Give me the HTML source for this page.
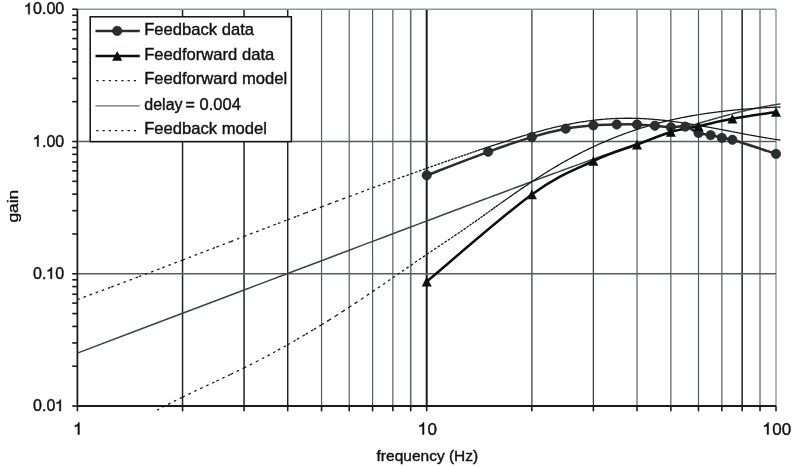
<!DOCTYPE html>
<html><head><meta charset="utf-8"><title>gain vs frequency</title><style>
*{margin:0;padding:0}
html,body{width:792px;height:467px;background:#fff;overflow:hidden}
svg{display:block;will-change:transform}
.gv{stroke:#52585a;stroke-width:1.15}
.gv2{stroke:#363b3d;stroke-width:1.25}
.gd{stroke:#1e2222;stroke-width:1.5}
.gli{stroke:#6a7072;stroke-width:1.7}
.gm{stroke:#1c1e1e;stroke-width:2}
.gl{stroke:#8d9898;stroke-width:1.4}
.gh{stroke:#565c5e;stroke-width:1.4}
.ax{stroke:#1a1a1a;stroke-width:1.8}
.tk{stroke:#1a1a1a;stroke-width:1.6}
.dl{stroke:#3d4343;stroke-width:1.5;fill:none}
.ldl{stroke:#6a6e6e;stroke-width:1.2;fill:none}
.dash{stroke:#1a1a1a;stroke-width:1.3;fill:none;stroke-dasharray:2.6 3.9}
.ldash{stroke:#1a1a1a;stroke-width:1.4;fill:none;stroke-dasharray:2.2 4.05}
.ffd{stroke:#0d0d0d;stroke-width:2.5;fill:none;stroke-linejoin:round}
.fbd{stroke:#2a2d2d;stroke-width:2.5;fill:none;stroke-linejoin:round}
.cm{fill:#2a2e2e;stroke:#1c1e1e;stroke-width:0.6}
.tm{fill:#0d0d0d}
.lg{fill:#fff;stroke:#111;stroke-width:1.5}
.t{font-family:"Liberation Sans",sans-serif;font-size:16px;fill:#111;stroke:#111;stroke-width:0.4px;stroke-linejoin:round}
.lgt{font-size:16.6px}
.h{fill-opacity:0;stroke-opacity:0}
.g1{fill:#111;stroke:#111;stroke-width:0.4px;stroke-linejoin:round;vector-effect:non-scaling-stroke}
.xt{font-size:17px}
.xl{font-size:15.5px}
</style></head>
<body><svg width="792" height="467" viewBox="0 0 792 467">
<line x1="182.55" y1="9.2" x2="182.55" y2="406" class="gd"/>
<line x1="244.06" y1="9.2" x2="244.06" y2="406" class="gd"/>
<line x1="287.7" y1="9.2" x2="287.7" y2="406" class="gd"/>
<line x1="321.55" y1="9.2" x2="321.55" y2="406" class="gv"/>
<line x1="349.21" y1="9.2" x2="349.21" y2="406" class="gv"/>
<line x1="372.59" y1="9.2" x2="372.59" y2="406" class="gv"/>
<line x1="392.85" y1="9.2" x2="392.85" y2="406" class="gv"/>
<line x1="410.72" y1="9.2" x2="410.72" y2="406" class="gli"/>
<line x1="531.85" y1="9.2" x2="531.85" y2="406" class="gli"/>
<line x1="593.36" y1="9.2" x2="593.36" y2="406" class="gv2"/>
<line x1="637" y1="9.2" x2="637" y2="406" class="gv"/>
<line x1="670.85" y1="9.2" x2="670.85" y2="406" class="gv"/>
<line x1="698.51" y1="9.2" x2="698.51" y2="406" class="gv"/>
<line x1="721.89" y1="9.2" x2="721.89" y2="406" class="gv"/>
<line x1="742.15" y1="9.2" x2="742.15" y2="406" class="gd"/>
<line x1="760.02" y1="9.2" x2="760.02" y2="406" class="gv"/>
<line x1="426.7" y1="9.2" x2="426.7" y2="406" class="gm"/>
<line x1="776" y1="9.2" x2="776" y2="406" class="gl"/>
<line x1="77.4" y1="9.23" x2="776" y2="9.23" class="gl"/>
<line x1="77.4" y1="141.5" x2="776" y2="141.5" class="gh"/>
<line x1="77.4" y1="273.77" x2="776" y2="273.77" class="gh"/>
<line x1="77.4" y1="9.2" x2="77.4" y2="406" class="ax"/>
<line x1="77.4" y1="406" x2="776" y2="406" class="ax"/>
<line x1="72.2" y1="406.04" x2="77.4" y2="406.04" class="tk"/>
<line x1="72.2" y1="366.22" x2="77.4" y2="366.22" class="tk"/>
<line x1="72.2" y1="342.93" x2="77.4" y2="342.93" class="tk"/>
<line x1="72.2" y1="326.41" x2="77.4" y2="326.41" class="tk"/>
<line x1="72.2" y1="313.59" x2="77.4" y2="313.59" class="tk"/>
<line x1="72.2" y1="303.11" x2="77.4" y2="303.11" class="tk"/>
<line x1="72.2" y1="294.26" x2="77.4" y2="294.26" class="tk"/>
<line x1="72.2" y1="286.59" x2="77.4" y2="286.59" class="tk"/>
<line x1="72.2" y1="279.82" x2="77.4" y2="279.82" class="tk"/>
<line x1="72.2" y1="273.77" x2="77.4" y2="273.77" class="tk"/>
<line x1="72.2" y1="233.95" x2="77.4" y2="233.95" class="tk"/>
<line x1="72.2" y1="210.66" x2="77.4" y2="210.66" class="tk"/>
<line x1="72.2" y1="194.14" x2="77.4" y2="194.14" class="tk"/>
<line x1="72.2" y1="181.32" x2="77.4" y2="181.32" class="tk"/>
<line x1="72.2" y1="170.84" x2="77.4" y2="170.84" class="tk"/>
<line x1="72.2" y1="161.99" x2="77.4" y2="161.99" class="tk"/>
<line x1="72.2" y1="154.32" x2="77.4" y2="154.32" class="tk"/>
<line x1="72.2" y1="147.55" x2="77.4" y2="147.55" class="tk"/>
<line x1="72.2" y1="141.5" x2="77.4" y2="141.5" class="tk"/>
<line x1="72.2" y1="101.68" x2="77.4" y2="101.68" class="tk"/>
<line x1="72.2" y1="78.39" x2="77.4" y2="78.39" class="tk"/>
<line x1="72.2" y1="61.87" x2="77.4" y2="61.87" class="tk"/>
<line x1="72.2" y1="49.05" x2="77.4" y2="49.05" class="tk"/>
<line x1="72.2" y1="38.57" x2="77.4" y2="38.57" class="tk"/>
<line x1="72.2" y1="29.72" x2="77.4" y2="29.72" class="tk"/>
<line x1="72.2" y1="22.05" x2="77.4" y2="22.05" class="tk"/>
<line x1="72.2" y1="15.28" x2="77.4" y2="15.28" class="tk"/>
<line x1="72.2" y1="9.23" x2="77.4" y2="9.23" class="tk"/>
<line x1="77.4" y1="406" x2="77.4" y2="411.3" class="tk"/>
<line x1="182.55" y1="406" x2="182.55" y2="411.3" class="tk"/>
<line x1="244.06" y1="406" x2="244.06" y2="411.3" class="tk"/>
<line x1="287.7" y1="406" x2="287.7" y2="411.3" class="tk"/>
<line x1="321.55" y1="406" x2="321.55" y2="411.3" class="tk"/>
<line x1="349.21" y1="406" x2="349.21" y2="411.3" class="tk"/>
<line x1="372.59" y1="406" x2="372.59" y2="411.3" class="tk"/>
<line x1="392.85" y1="406" x2="392.85" y2="411.3" class="tk"/>
<line x1="410.72" y1="406" x2="410.72" y2="411.3" class="tk"/>
<line x1="426.7" y1="406" x2="426.7" y2="411.3" class="tk"/>
<line x1="531.85" y1="406" x2="531.85" y2="411.3" class="tk"/>
<line x1="593.36" y1="406" x2="593.36" y2="411.3" class="tk"/>
<line x1="637" y1="406" x2="637" y2="411.3" class="tk"/>
<line x1="670.85" y1="406" x2="670.85" y2="411.3" class="tk"/>
<line x1="698.51" y1="406" x2="698.51" y2="411.3" class="tk"/>
<line x1="721.89" y1="406" x2="721.89" y2="411.3" class="tk"/>
<line x1="742.15" y1="406" x2="742.15" y2="411.3" class="tk"/>
<line x1="760.02" y1="406" x2="760.02" y2="411.3" class="tk"/>
<line x1="776" y1="406" x2="776" y2="411.3" class="tk"/>
<path d="M77.4,353.1 L138.91,329.81 L182.55,313.29 L216.4,300.47 L244.06,290.01 L267.44,281.15 L287.7,273.49 L305.57,266.73 L321.55,260.69 L336.01,255.22 L349.21,250.23 L361.35,245.64 L372.59,241.39 L383.06,237.44 L392.85,233.75 L402.05,230.28 L410.72,227.01 L418.92,223.91 L426.7,220.98 L434.1,218.19 L441.16,215.54 L447.9,213 L454.36,210.57 L460.55,208.25 L466.5,206.01 L472.23,203.87 L477.74,201.8 L483.07,199.8 L488.21,197.88 L493.18,196.02 L498,194.22 L502.67,192.48 L507.2,190.79 L511.59,189.15 L515.87,187.56 L520.02,186.01 L524.07,184.51 L528.01,183.04 L531.85,181.62 L535.6,180.23 L539.25,178.88 L542.82,177.56 L546.31,176.27 L549.72,175.01 L553.05,173.79 L556.31,172.59 L559.51,171.41 L562.64,170.27 L565.7,169.14 L568.7,168.04 L571.65,166.97 L574.54,165.91 L577.38,164.88 L580.16,163.87 L582.89,162.87 L585.58,161.9 L588.22,160.95 L590.81,160.01 L593.36,159.09 L595.87,158.19 L598.33,157.3 L600.76,156.43 L603.15,155.57 L605.5,154.73 L607.82,153.9 L610.1,153.09 L612.35,152.29 L614.56,151.5 L616.74,150.73 L618.89,149.97 L621.02,149.22 L623.11,148.48 L625.17,147.76 L627.21,147.05 L629.22,146.34 L631.2,145.65 L633.16,144.97 L635.09,144.3 L637,143.64 L638.88,142.98 L640.75,142.34 L642.58,141.71 L644.4,141.09 L646.2,140.47 L647.97,139.86 L649.72,139.27 L651.46,138.68 L653.17,138.1 L654.87,137.52 L656.54,136.96 L658.2,136.4 L659.84,135.85 L661.46,135.31 L663.07,134.78 L664.66,134.25 L666.23,133.73 L667.79,133.22 L669.33,132.71 L670.85,132.21 L672.36,131.71 L673.85,131.23 L675.33,130.75 L676.8,130.27 L678.25,129.8 L679.69,129.34 L681.11,128.89 L682.53,128.43 L683.92,127.99 L685.31,127.55 L686.68,127.12 L688.04,126.69 L689.39,126.27 L690.73,125.85 L692.05,125.44 L693.37,125.03 L694.67,124.63 L695.96,124.23 L697.24,123.84 L698.51,123.45 L699.77,123.07 L701.02,122.69 L702.25,122.32 L703.48,121.95 L704.7,121.59 L705.91,121.23 L707.11,120.88 L708.3,120.53 L709.48,120.18 L710.65,119.84 L711.81,119.51 L712.97,119.17 L714.11,118.84 L715.25,118.52 L716.38,118.2 L717.5,117.88 L718.61,117.57 L719.71,117.26 L720.81,116.96 L721.89,116.66 L722.97,116.36 L724.04,116.07 L725.11,115.78 L726.17,115.49 L727.22,115.21 L728.26,114.93 L729.29,114.66 L730.32,114.39 L731.34,114.12 L732.36,113.86 L733.37,113.6 L734.37,113.34 L735.36,113.09 L736.35,112.84 L737.33,112.59 L738.31,112.35 L739.28,112.1 L740.24,111.87 L741.2,111.63 L742.15,111.4 L743.09,111.18 L744.03,110.95 L744.97,110.73 L745.9,110.51 L746.82,110.3 L747.73,110.09 L748.65,109.88 L749.55,109.67 L750.45,109.47 L751.35,109.27 L752.24,109.07 L753.12,108.88 L754,108.69 L754.87,108.5 L755.74,108.31 L756.61,108.13 L757.47,107.95 L758.32,107.77 L759.17,107.6 L760.02,107.43 L760.86,107.26 L761.69,107.09 L762.52,106.93 L763.35,106.77 L764.17,106.61 L764.99,106.46 L765.8,106.31 L766.61,106.16 L767.42,106.01 L768.22,105.87 L769.02,105.72 L769.81,105.58 L770.6,105.45 L771.38,105.31 L772.16,105.18 L772.94,105.05 L773.71,104.93 L774.48,104.8 L775.24,104.68 L776,104.57 L776.76,104.45 L777.51,104.34 L778.26,104.22 L779,104.12 L779.75,104.01 L780.48,103.91" class="dl"/>
<path d="M77.4,299.65L111.25,287.07M111.25,287.07L138.91,276.66M138.91,276.66L162.29,267.78M162.29,267.78L182.55,260.04M182.55,260.04L200.42,253.2M200.42,253.2L216.4,247.07M216.4,247.07L230.86,241.52M230.86,241.52L244.06,236.46M244.06,236.46L256.2,231.8M256.2,231.8L267.44,227.5M267.44,227.5L277.91,223.5M277.91,223.5L287.7,219.76M287.7,219.76L296.9,216.26M296.9,216.26L305.57,212.97M305.57,212.97L313.77,209.86M313.77,209.86L321.55,206.92M321.55,206.92L328.95,204.13M328.95,204.13L336.01,201.48M336.01,201.48L342.75,198.96M342.75,198.96L349.21,196.55M349.21,196.55L355.4,194.24M355.4,194.24L361.35,192.03M361.35,192.03L367.08,189.91M367.08,189.91L372.59,187.87M372.59,187.87L377.92,185.92M377.92,185.92L383.06,184.03M383.06,184.03L388.03,182.21M388.03,182.21L392.85,180.46M392.85,180.46L397.52,178.76M397.52,178.76L402.05,177.12M402.05,177.12L406.44,175.53M406.44,175.53L410.72,173.99M410.72,173.99L414.87,172.5M414.87,172.5L418.92,171.05M418.92,171.05L422.86,169.65M422.86,169.65L426.7,168.28M426.7,168.28L430.45,166.95M430.45,166.95L434.1,165.66M434.1,165.66L437.67,164.4M437.67,164.4L441.16,163.18M441.16,163.18L444.57,161.98M444.57,161.98L447.9,160.82M447.9,160.82L451.16,159.68M451.16,159.68L454.36,158.57M454.36,158.57L457.49,157.49M457.49,157.49L460.55,156.43M460.55,156.43L463.55,155.4M463.55,155.4L466.5,154.39M466.5,154.39L469.39,153.4M469.39,153.4L472.23,152.43M472.23,152.43L475.01,151.49M475.01,151.49L477.74,150.56M477.74,150.56L480.43,149.65M480.43,149.65L483.07,148.76M483.07,148.76L485.66,147.89M485.66,147.89L488.21,147.04M488.21,147.04L490.72,146.2M490.72,146.2L493.18,145.38M493.18,145.38L495.61,144.58M495.61,144.58L498,143.79M498,143.79L500.35,143.02M500.35,143.02L502.67,142.27M502.67,142.27L504.95,141.53M504.95,141.53L507.2,140.81M507.2,140.81L509.41,140.1M509.41,140.1L511.59,139.41M511.59,139.41L513.74,138.74M513.74,138.74L515.87,138.08M515.87,138.08L517.96,137.43M517.96,137.43L520.02,136.8M520.02,136.8L522.06,136.19M522.06,136.19L524.07,135.59M524.07,135.59L526.05,135M526.05,135L528.01,134.43M528.01,134.43L529.94,133.87M529.94,133.87L531.85,133.32M531.85,133.32L533.73,132.79M533.73,132.79L535.6,132.27M535.6,132.27L537.43,131.76M537.43,131.76L539.25,131.26M539.25,131.26L541.05,130.78M541.05,130.78L542.82,130.31M542.82,130.31L544.57,129.85M544.57,129.85L546.31,129.4M546.31,129.4L548.02,128.97M548.02,128.97L549.72,128.55M549.72,128.55L551.39,128.13M551.39,128.13L553.05,127.73M553.05,127.73L554.69,127.34M554.69,127.34L556.31,126.96M556.31,126.96L557.92,126.59M557.92,126.59L559.51,126.23M559.51,126.23L561.08,125.88M561.08,125.88L562.64,125.54M562.64,125.54L564.18,125.21M564.18,125.21L565.7,124.89M565.7,124.89L567.21,124.58M567.21,124.58L568.7,124.28M568.7,124.28L570.18,123.99M570.18,123.99L571.65,123.7M571.65,123.7L573.1,123.43M573.1,123.43L574.54,123.16M574.54,123.16L575.96,122.91M575.96,122.91L577.38,122.66M577.38,122.66L578.77,122.42M578.77,122.42L580.16,122.19M580.16,122.19L581.53,121.97M581.53,121.97L582.89,121.75M582.89,121.75L584.24,121.54M584.24,121.54L585.58,121.34M585.58,121.34L586.9,121.15M586.9,121.15L588.22,120.97M588.22,120.97L589.52,120.79M589.52,120.79L590.81,120.62M590.81,120.62L592.09,120.46M592.09,120.46L593.36,120.3M593.36,120.3L594.62,120.15M594.62,120.15L595.87,120.01M595.87,120.01L597.1,119.88M597.1,119.88L598.33,119.75M598.33,119.75L599.55,119.63M599.55,119.63L600.76,119.51M600.76,119.51L601.96,119.4M601.96,119.4L603.15,119.3M603.15,119.3L604.33,119.2M604.33,119.2L605.5,119.1M605.5,119.1L606.66,119.02M606.66,119.02L607.82,118.94M607.82,118.94L608.96,118.86M608.96,118.86L610.1,118.79M610.1,118.79L611.23,118.72M611.23,118.72L612.35,118.66M612.35,118.66L613.46,118.6M613.46,118.6L614.56,118.55M614.56,118.55L615.66,118.5M615.66,118.5L616.74,118.46M616.74,118.46L617.82,118.42M617.82,118.42L618.89,118.38M618.89,118.38L619.96,118.35M619.96,118.35L621.02,118.33M621.02,118.33L622.07,118.3M622.07,118.3L623.11,118.28M623.11,118.28L624.14,118.27M624.14,118.27L625.17,118.26M625.17,118.26L626.19,118.25M626.19,118.25L627.21,118.25M627.21,118.25L628.22,118.25M628.22,118.25L629.22,118.25M629.22,118.25L630.21,118.26M630.21,118.26L631.2,118.26M631.2,118.26L632.18,118.28M632.18,118.28L633.16,118.29M633.16,118.29L634.13,118.31M634.13,118.31L635.09,118.33M635.09,118.33L636.05,118.36M636.05,118.36L637,118.39M637,118.39L637.94,118.42M637.94,118.42L638.88,118.45M638.88,118.45L639.82,118.49M639.82,118.49L640.75,118.53M640.75,118.53L641.67,118.57M641.67,118.57L642.58,118.61M642.58,118.61L643.5,118.66M643.5,118.66L644.4,118.71M644.4,118.71L645.3,118.76M645.3,118.76L646.2,118.81M646.2,118.81L647.09,118.87M647.09,118.87L647.97,118.92M647.97,118.92L648.85,118.98M648.85,118.98L649.72,119.04M649.72,119.04L650.59,119.11M650.59,119.11L651.46,119.17M651.46,119.17L652.32,119.24M652.32,119.24L653.17,119.31M653.17,119.31L654.02,119.38M654.02,119.38L654.87,119.45M654.87,119.45L655.71,119.53M655.71,119.53L656.54,119.6M656.54,119.6L657.37,119.68M657.37,119.68L658.2,119.76M658.2,119.76L659.02,119.84M659.02,119.84L659.84,119.92M659.84,119.92L660.65,120M660.65,120L661.46,120.08M661.46,120.08L662.27,120.17M662.27,120.17L663.07,120.25M663.07,120.25L663.87,120.34M663.87,120.34L664.66,120.43M664.66,120.43L665.45,120.52M665.45,120.52L666.23,120.61M666.23,120.61L667.01,120.7M667.01,120.7L667.79,120.79M667.79,120.79L668.56,120.89M668.56,120.89L669.33,120.98M669.33,120.98L670.09,121.08M670.09,121.08L670.85,121.17M670.85,121.17L671.61,121.27M671.61,121.27L672.36,121.37M672.36,121.37L673.11,121.46M673.11,121.46L673.85,121.56M673.85,121.56L674.6,121.66M674.6,121.66L675.33,121.76M675.33,121.76L676.07,121.86M676.07,121.86L676.8,121.96M676.8,121.96L677.53,122.07M677.53,122.07L678.25,122.17M678.25,122.17L678.97,122.27M678.97,122.27L679.69,122.37M679.69,122.37L680.4,122.48M680.4,122.48L681.11,122.58M681.11,122.58L681.82,122.69M681.82,122.69L682.53,122.79M682.53,122.79L683.23,122.9M683.23,122.9L683.92,123M683.92,123L684.62,123.11M684.62,123.11L685.31,123.22M685.31,123.22L686,123.32M686,123.32L686.68,123.43M686.68,123.43L687.36,123.54M687.36,123.54L688.04,123.65M688.04,123.65L688.72,123.75M688.72,123.75L689.39,123.86M689.39,123.86L690.06,123.97M690.06,123.97L690.73,124.08M690.73,124.08L691.39,124.19M691.39,124.19L692.05,124.3M692.05,124.3L692.71,124.41M692.71,124.41L693.37,124.52M693.37,124.52L694.02,124.62M694.02,124.62L694.67,124.73M694.67,124.73L695.31,124.84M695.31,124.84L695.96,124.95M695.96,124.95L696.6,125.06M696.6,125.06L697.24,125.17M697.24,125.17L697.87,125.28M697.87,125.28L698.51,125.39M698.51,125.39L699.14,125.5M699.14,125.5L699.77,125.61M699.77,125.61L700.39,125.72M700.39,125.72L701.02,125.83M701.02,125.83L701.64,125.94M701.64,125.94L702.25,126.05M702.25,126.05L702.87,126.16M702.87,126.16L703.48,126.27M703.48,126.27L704.09,126.38M704.09,126.38L704.7,126.49M704.7,126.49L705.31,126.6M705.31,126.6L705.91,126.71M705.91,126.71L706.51,126.82M706.51,126.82L707.11,126.92M707.11,126.92L707.7,127.03M707.7,127.03L708.3,127.14M708.3,127.14L708.89,127.25M708.89,127.25L709.48,127.36M709.48,127.36L710.07,127.47M710.07,127.47L710.65,127.57M710.65,127.57L711.23,127.68M711.23,127.68L711.81,127.79M711.81,127.79L712.39,127.9M712.39,127.9L712.97,128.01M712.97,128.01L713.54,128.11M713.54,128.11L714.11,128.22M714.11,128.22L714.68,128.33M714.68,128.33L715.25,128.43M715.25,128.43L715.81,128.54M715.81,128.54L716.38,128.64M716.38,128.64L716.94,128.75M716.94,128.75L717.5,128.86M717.5,128.86L718.05,128.96M718.05,128.96L718.61,129.07M718.61,129.07L719.16,129.17M719.16,129.17L719.71,129.28M719.71,129.28L720.26,129.38M720.26,129.38L720.81,129.48M720.81,129.48L721.35,129.59M721.35,129.59L721.89,129.69M721.89,129.69L722.43,129.79M722.43,129.79L722.97,129.9M722.97,129.9L723.51,130M723.51,130L724.04,130.1M724.04,130.1L724.58,130.2M724.58,130.2L725.11,130.31M725.11,130.31L725.64,130.41M725.64,130.41L726.17,130.51M726.17,130.51L726.69,130.61M726.69,130.61L727.22,130.71M727.22,130.71L727.74,130.81M727.74,130.81L728.26,130.91M728.26,130.91L728.78,131.01M728.78,131.01L729.29,131.11M729.29,131.11L729.81,131.21M729.81,131.21L730.32,131.31M730.32,131.31L730.83,131.4M730.83,131.4L731.34,131.5M731.34,131.5L731.85,131.6M731.85,131.6L732.36,131.7M732.36,131.7L732.86,131.79M732.86,131.79L733.37,131.89M733.37,131.89L733.87,131.99M733.87,131.99L734.37,132.08M734.37,132.08L734.87,132.18M734.87,132.18L735.36,132.27M735.36,132.27L735.86,132.37M735.86,132.37L736.35,132.46M736.35,132.46L736.84,132.55M736.84,132.55L737.33,132.65M737.33,132.65L737.82,132.74M737.82,132.74L738.31,132.83M738.31,132.83L738.79,132.93M738.79,132.93L739.28,133.02M739.28,133.02L739.76,133.11M739.76,133.11L740.24,133.2M740.24,133.2L740.72,133.29M740.72,133.29L741.2,133.38M741.2,133.38L741.67,133.47M741.67,133.47L742.15,133.56M742.15,133.56L742.62,133.65M742.62,133.65L743.09,133.74M743.09,133.74L743.56,133.83M743.56,133.83L744.03,133.92M744.03,133.92L744.5,134.01M744.5,134.01L744.97,134.09M744.97,134.09L745.43,134.18M745.43,134.18L745.9,134.27M745.9,134.27L746.36,134.35M746.36,134.35L746.82,134.44M746.82,134.44L747.28,134.52M747.28,134.52L747.73,134.61M747.73,134.61L748.19,134.69M748.19,134.69L748.65,134.78M748.65,134.78L749.1,134.86M749.1,134.86L749.55,134.95M749.55,134.95L750,135.03M750,135.03L750.45,135.11M750.45,135.11L750.9,135.19M750.9,135.19L751.35,135.28M751.35,135.28L751.79,135.36M751.79,135.36L752.24,135.44M752.24,135.44L752.68,135.52M752.68,135.52L753.12,135.6M753.12,135.6L753.56,135.68M753.56,135.68L754,135.76M754,135.76L754.44,135.84M754.44,135.84L754.87,135.92M754.87,135.92L755.31,135.99M755.31,135.99L755.74,136.07M755.74,136.07L756.18,136.15M756.18,136.15L756.61,136.23M756.61,136.23L757.04,136.3M757.04,136.3L757.47,136.38M757.47,136.38L757.9,136.46M757.9,136.46L758.32,136.53M758.32,136.53L758.75,136.61M758.75,136.61L759.17,136.68M759.17,136.68L759.59,136.75M759.59,136.75L760.02,136.83M760.02,136.83L760.44,136.9M760.44,136.9L760.86,136.97M760.86,136.97L761.28,137.05M761.28,137.05L761.69,137.12M761.69,137.12L762.11,137.19M762.11,137.19L762.52,137.26M762.52,137.26L762.94,137.33M762.94,137.33L763.35,137.4M763.35,137.4L763.76,137.47M763.76,137.47L764.17,137.54M764.17,137.54L764.58,137.61M764.58,137.61L764.99,137.68M764.99,137.68L765.4,137.75M765.4,137.75L765.8,137.82M765.8,137.82L766.21,137.89M766.21,137.89L766.61,137.95M766.61,137.95L767.02,138.02M767.02,138.02L767.42,138.09M767.42,138.09L767.82,138.15M767.82,138.15L768.22,138.22M768.22,138.22L768.62,138.28M768.62,138.28L769.02,138.35M769.02,138.35L769.41,138.41M769.41,138.41L769.81,138.48M769.81,138.48L770.2,138.54M770.2,138.54L770.6,138.6M770.6,138.6L770.99,138.67M770.99,138.67L771.38,138.73M771.38,138.73L771.77,138.79M771.77,138.79L772.16,138.85M772.16,138.85L772.55,138.91M772.55,138.91L772.94,138.98M772.94,138.98L773.32,139.04M773.32,139.04L773.71,139.1M773.71,139.1L774.09,139.16M774.09,139.16L774.48,139.22M774.48,139.22L774.86,139.27M774.86,139.27L775.24,139.33M775.24,139.33L775.62,139.39M775.62,139.39L776,139.45M776,139.45L776.38,139.51M776.38,139.51L776.76,139.56M776.76,139.56L777.13,139.62M777.13,139.62L777.51,139.68M777.51,139.68L777.88,139.73M777.88,139.73L778.26,139.79M778.26,139.79L778.63,139.84M778.63,139.84L779,139.9M779,139.9L779.38,139.95M779.38,139.95L779.75,140M779.75,140L780.12,140.06M780.12,140.06L780.48,140.11" class="dash"/>
<path d="M156.9,410.2L162.29,407.24M162.29,407.24L182.55,397.1M182.55,397.1L200.42,388.6M200.42,388.6L216.4,381.12M216.4,381.12L230.86,374.29M230.86,374.29L244.06,367.88M244.06,367.88L256.2,361.74M256.2,361.74L267.44,355.85M267.44,355.85L277.91,350.18M277.91,350.18L287.7,344.73M287.7,344.73L296.9,339.47M296.9,339.47L305.57,334.4M305.57,334.4L313.77,329.5M313.77,329.5L321.55,324.75M321.55,324.75L328.95,320.16M328.95,320.16L336.01,315.71M336.01,315.71L342.75,311.4M342.75,311.4L349.21,307.21M349.21,307.21L355.4,303.13M355.4,303.13L361.35,299.17M361.35,299.17L367.08,295.33M367.08,295.33L372.59,291.6M372.59,291.6L377.92,287.98M377.92,287.98L383.06,284.46M383.06,284.46L388.03,281.05M388.03,281.05L392.85,277.73M392.85,277.73L397.52,274.52M397.52,274.52L402.05,271.39M402.05,271.39L406.44,268.36M406.44,268.36L410.72,265.42M410.72,265.42L414.87,262.56M414.87,262.56L418.92,259.78M418.92,259.78L422.86,257.09M422.86,257.09L426.7,254.47M426.7,254.47L430.45,251.92M430.45,251.92L434.1,249.44M434.1,249.44L437.67,247.04M437.67,247.04L441.16,244.7M441.16,244.7L444.57,242.41M444.57,242.41L447.9,240.18M447.9,240.18L451.16,237.99M451.16,237.99L454.36,235.84M454.36,235.84L457.49,233.73M457.49,233.73L460.55,231.65M460.55,231.65L463.55,229.6M463.55,229.6L466.5,227.57M466.5,227.57L469.39,225.56M469.39,225.56L472.23,223.58M472.23,223.58L475.01,221.61M475.01,221.61L477.74,219.68M477.74,219.68L480.43,217.76M480.43,217.76L483.07,215.88M483.07,215.88L485.66,214.02M485.66,214.02L488.21,212.19M488.21,212.19L490.72,210.39M490.72,210.39L493.18,208.63M493.18,208.63L495.61,206.89M495.61,206.89L498,205.18M498,205.18L500.35,203.51M500.35,203.51L502.67,201.86M502.67,201.86L504.95,200.25M504.95,200.25L507.2,198.67M507.2,198.67L509.41,197.11M509.41,197.11L511.59,195.59M511.59,195.59L513.74,194.09M513.74,194.09L515.87,192.62M515.87,192.62L517.96,191.18M517.96,191.18L520.02,189.77M520.02,189.77L522.06,188.38M522.06,188.38L524.07,187.01M524.07,187.01L526.05,185.67M526.05,185.67L528.01,184.35M528.01,184.35L529.94,183.06M529.94,183.06L531.85,181.79M531.85,181.79L533.73,180.54M533.73,180.54L535.6,179.32M535.6,179.32L537.43,178.11M537.43,178.11L539.25,176.93M539.25,176.93L541.05,175.77M541.05,175.77L542.82,174.64M542.82,174.64L544.57,173.53M544.57,173.53L546.31,172.43M546.31,172.43L548.02,171.36M548.02,171.36L549.72,170.32M549.72,170.32L551.39,169.29M551.39,169.29L553.05,168.29M553.05,168.29L554.69,167.3M554.69,167.3L556.31,166.33M556.31,166.33L557.92,165.39M557.92,165.39L559.51,164.46M559.51,164.46L561.08,163.55M561.08,163.55L562.64,162.66M562.64,162.66L564.18,161.78M564.18,161.78L565.7,160.92M565.7,160.92L567.21,160.08M567.21,160.08L568.7,159.26M568.7,159.26L570.18,158.45M570.18,158.45L571.65,157.65M571.65,157.65L573.1,156.87M573.1,156.87L574.54,156.1M574.54,156.1L575.96,155.35M575.96,155.35L577.38,154.61M577.38,154.61L578.77,153.89M578.77,153.89L580.16,153.18M580.16,153.18L581.53,152.48M581.53,152.48L582.89,151.79M582.89,151.79L584.24,151.12M584.24,151.12L585.58,150.46M585.58,150.46L586.9,149.81M586.9,149.81L588.22,149.17M588.22,149.17L589.52,148.54M589.52,148.54L590.81,147.92M590.81,147.92L592.09,147.31M592.09,147.31L593.36,146.72M593.36,146.72L594.62,146.13M594.62,146.13L595.87,145.56M595.87,145.56L597.1,144.99M597.1,144.99L598.33,144.43M598.33,144.43L599.55,143.89M599.55,143.89L600.76,143.35M600.76,143.35L601.96,142.82M601.96,142.82L603.15,142.3M603.15,142.3L604.33,141.79M604.33,141.79L605.5,141.28M605.5,141.28L606.66,140.79M606.66,140.79L607.82,140.3M607.82,140.3L608.96,139.82M608.96,139.82L610.1,139.35M610.1,139.35L611.23,138.89M611.23,138.89L612.35,138.43M612.35,138.43L613.46,137.98M613.46,137.98L614.56,137.54M614.56,137.54L615.66,137.11M615.66,137.11L616.74,136.68M616.74,136.68L617.82,136.26M617.82,136.26L618.89,135.84M618.89,135.84L619.96,135.44M619.96,135.44L621.02,135.04M621.02,135.04L622.07,134.64M622.07,134.64L623.11,134.25M623.11,134.25L624.14,133.87M624.14,133.87L625.17,133.49M625.17,133.49L626.19,133.12M626.19,133.12L627.21,132.76M627.21,132.76L628.22,132.4M628.22,132.4L629.22,132.04M629.22,132.04L630.21,131.7M630.21,131.7L631.2,131.35M631.2,131.35L632.18,131.02M632.18,131.02L633.16,130.68M633.16,130.68L634.13,130.36M634.13,130.36L635.09,130.03M635.09,130.03L636.05,129.72M636.05,129.72L637,129.4M637,129.4L637.94,129.1M637.94,129.1L638.88,128.79M638.88,128.79L639.82,128.49M639.82,128.49L640.75,128.2M640.75,128.2L641.67,127.91M641.67,127.91L642.58,127.62M642.58,127.62L643.5,127.34M643.5,127.34L644.4,127.07M644.4,127.07L645.3,126.79M645.3,126.79L646.2,126.53M646.2,126.53L647.09,126.26M647.09,126.26L647.97,126M647.97,126L648.85,125.74M648.85,125.74L649.72,125.49M649.72,125.49L650.59,125.24M650.59,125.24L651.46,125M651.46,125L652.32,124.75M652.32,124.75L653.17,124.52M653.17,124.52L654.02,124.28M654.02,124.28L654.87,124.05M654.87,124.05L655.71,123.82M655.71,123.82L656.54,123.6M656.54,123.6L657.37,123.37M657.37,123.37L658.2,123.16M658.2,123.16L659.02,122.94M659.02,122.94L659.84,122.73M659.84,122.73L660.65,122.52M660.65,122.52L661.46,122.31M661.46,122.31L662.27,122.11M662.27,122.11L663.07,121.91M663.07,121.91L663.87,121.71M663.87,121.71L664.66,121.52M664.66,121.52L665.45,121.32M665.45,121.32L666.23,121.13M666.23,121.13L667.01,120.95M667.01,120.95L667.79,120.76M667.79,120.76L668.56,120.58M668.56,120.58L669.33,120.4M669.33,120.4L670.09,120.22M670.09,120.22L670.85,120.05M670.85,120.05L671.61,119.88M671.61,119.88L672.36,119.71M672.36,119.71L673.11,119.54M673.11,119.54L673.85,119.37M673.85,119.37L674.6,119.21M674.6,119.21L675.33,119.05M675.33,119.05L676.07,118.89M676.07,118.89L676.8,118.73M676.8,118.73L677.53,118.58M677.53,118.58L678.25,118.43M678.25,118.43L678.97,118.28M678.97,118.28L679.69,118.13M679.69,118.13L680.4,117.98M680.4,117.98L681.11,117.84M681.11,117.84L681.82,117.69M681.82,117.69L682.53,117.55M682.53,117.55L683.23,117.42M683.23,117.42L683.92,117.28M683.92,117.28L684.62,117.14M684.62,117.14L685.31,117.01M685.31,117.01L686,116.88M686,116.88L686.68,116.75M686.68,116.75L687.36,116.62M687.36,116.62L688.04,116.49M688.04,116.49L688.72,116.37M688.72,116.37L689.39,116.24M689.39,116.24L690.06,116.12M690.06,116.12L690.73,116M690.73,116L691.39,115.88M691.39,115.88L692.05,115.76M692.05,115.76L692.71,115.65M692.71,115.65L693.37,115.53M693.37,115.53L694.02,115.42M694.02,115.42L694.67,115.31M694.67,115.31L695.31,115.2M695.31,115.2L695.96,115.09M695.96,115.09L696.6,114.98M696.6,114.98L697.24,114.88M697.24,114.88L697.87,114.77M697.87,114.77L698.51,114.67M698.51,114.67L699.14,114.57M699.14,114.57L699.77,114.47M699.77,114.47L700.39,114.37M700.39,114.37L701.02,114.27M701.02,114.27L701.64,114.17M701.64,114.17L702.25,114.08M702.25,114.08L702.87,113.98M702.87,113.98L703.48,113.89M703.48,113.89L704.09,113.79M704.09,113.79L704.7,113.7M704.7,113.7L705.31,113.61M705.31,113.61L705.91,113.52M705.91,113.52L706.51,113.44M706.51,113.44L707.11,113.35M707.11,113.35L707.7,113.26M707.7,113.26L708.3,113.18M708.3,113.18L708.89,113.09M708.89,113.09L709.48,113.01M709.48,113.01L710.07,112.93M710.07,112.93L710.65,112.85M710.65,112.85L711.23,112.77M711.23,112.77L711.81,112.69M711.81,112.69L712.39,112.61M712.39,112.61L712.97,112.53M712.97,112.53L713.54,112.46M713.54,112.46L714.11,112.38M714.11,112.38L714.68,112.31M714.68,112.31L715.25,112.24M715.25,112.24L715.81,112.16M715.81,112.16L716.38,112.09M716.38,112.09L716.94,112.02M716.94,112.02L717.5,111.95M717.5,111.95L718.05,111.88M718.05,111.88L718.61,111.81M718.61,111.81L719.16,111.74M719.16,111.74L719.71,111.68M719.71,111.68L720.26,111.61M720.26,111.61L720.81,111.55M720.81,111.55L721.35,111.48M721.35,111.48L721.89,111.42M721.89,111.42L722.43,111.36M722.43,111.36L722.97,111.29M722.97,111.29L723.51,111.23M723.51,111.23L724.04,111.17M724.04,111.17L724.58,111.11M724.58,111.11L725.11,111.05M725.11,111.05L725.64,110.99M725.64,110.99L726.17,110.93M726.17,110.93L726.69,110.88M726.69,110.88L727.22,110.82M727.22,110.82L727.74,110.76M727.74,110.76L728.26,110.71M728.26,110.71L728.78,110.65M728.78,110.65L729.29,110.6M729.29,110.6L729.81,110.54M729.81,110.54L730.32,110.49M730.32,110.49L730.83,110.44M730.83,110.44L731.34,110.39M731.34,110.39L731.85,110.34M731.85,110.34L732.36,110.29M732.36,110.29L732.86,110.23M732.86,110.23L733.37,110.19M733.37,110.19L733.87,110.14M733.87,110.14L734.37,110.09M734.37,110.09L734.87,110.04M734.87,110.04L735.36,109.99M735.36,109.99L735.86,109.95M735.86,109.95L736.35,109.9M736.35,109.9L736.84,109.85M736.84,109.85L737.33,109.81M737.33,109.81L737.82,109.76M737.82,109.76L738.31,109.72M738.31,109.72L738.79,109.67M738.79,109.67L739.28,109.63M739.28,109.63L739.76,109.59M739.76,109.59L740.24,109.55M740.24,109.55L740.72,109.5M740.72,109.5L741.2,109.46M741.2,109.46L741.67,109.42M741.67,109.42L742.15,109.38M742.15,109.38L742.62,109.34M742.62,109.34L743.09,109.3M743.09,109.3L743.56,109.26M743.56,109.26L744.03,109.22M744.03,109.22L744.5,109.18M744.5,109.18L744.97,109.15M744.97,109.15L745.43,109.11M745.43,109.11L745.9,109.07M745.9,109.07L746.36,109.03M746.36,109.03L746.82,109M746.82,109L747.28,108.96M747.28,108.96L747.73,108.93M747.73,108.93L748.19,108.89M748.19,108.89L748.65,108.86M748.65,108.86L749.1,108.82M749.1,108.82L749.55,108.79M749.55,108.79L750,108.75M750,108.75L750.45,108.72M750.45,108.72L750.9,108.69M750.9,108.69L751.35,108.65M751.35,108.65L751.79,108.62M751.79,108.62L752.24,108.59M752.24,108.59L752.68,108.56M752.68,108.56L753.12,108.53M753.12,108.53L753.56,108.49M753.56,108.49L754,108.46M754,108.46L754.44,108.43M754.44,108.43L754.87,108.4M754.87,108.4L755.31,108.37M755.31,108.37L755.74,108.34M755.74,108.34L756.18,108.31M756.18,108.31L756.61,108.28M756.61,108.28L757.04,108.26M757.04,108.26L757.47,108.23M757.47,108.23L757.9,108.2M757.9,108.2L758.32,108.17M758.32,108.17L758.75,108.14M758.75,108.14L759.17,108.12M759.17,108.12L759.59,108.09M759.59,108.09L760.02,108.06M760.02,108.06L760.44,108.04M760.44,108.04L760.86,108.01M760.86,108.01L761.28,107.98M761.28,107.98L761.69,107.96M761.69,107.96L762.11,107.93M762.11,107.93L762.52,107.91M762.52,107.91L762.94,107.88M762.94,107.88L763.35,107.86M763.35,107.86L763.76,107.83M763.76,107.83L764.17,107.81M764.17,107.81L764.58,107.79M764.58,107.79L764.99,107.76M764.99,107.76L765.4,107.74M765.4,107.74L765.8,107.72M765.8,107.72L766.21,107.69M766.21,107.69L766.61,107.67M766.61,107.67L767.02,107.65M767.02,107.65L767.42,107.62M767.42,107.62L767.82,107.6M767.82,107.6L768.22,107.58M768.22,107.58L768.62,107.56M768.62,107.56L769.02,107.54M769.02,107.54L769.41,107.52M769.41,107.52L769.81,107.49M769.81,107.49L770.2,107.47M770.2,107.47L770.6,107.45M770.6,107.45L770.99,107.43M770.99,107.43L771.38,107.41M771.38,107.41L771.77,107.39M771.77,107.39L772.16,107.37M772.16,107.37L772.55,107.35M772.55,107.35L772.94,107.33M772.94,107.33L773.32,107.31M773.32,107.31L773.71,107.29M773.71,107.29L774.09,107.27M774.09,107.27L774.48,107.25M774.48,107.25L774.86,107.24M774.86,107.24L775.24,107.22M775.24,107.22L775.62,107.2M775.62,107.2L776,107.18M776,107.18L776.38,107.16M776.38,107.16L776.76,107.14M776.76,107.14L777.13,107.13M777.13,107.13L777.51,107.11M777.51,107.11L777.88,107.09M777.88,107.09L778.26,107.07M778.26,107.07L778.63,107.06M778.63,107.06L779,107.04M779,107.04L779.38,107.02M779.38,107.02L779.75,107.01M779.75,107.01L780.12,106.99M780.12,106.99L780.48,106.97" class="dash"/>
<path d="M426.7,281.6 C444.22,267.07 504.07,214.5 531.85,194.4 C559.63,174.3 575.83,169.3 593.36,161 C610.88,152.7 624.08,149.43 637,144.6 C649.91,139.77 660.6,135.07 670.85,132 C681.1,128.93 688.26,128.4 698.51,126.2 C708.76,124 719.44,121.17 732.36,118.8 C745.27,116.43 768.73,113.13 776,112" class="ffd"/>
<path d="M426.7,175.3 C436.95,171.38 470.68,158.17 488.21,151.8 C505.73,145.43 518.93,140.95 531.85,137.1 C544.77,133.25 555.45,130.65 565.7,128.7 C575.95,126.75 584.85,126.1 593.36,125.4 C601.87,124.7 609.47,124.65 616.74,124.5 C624.02,124.35 630.65,124.3 637,124.5 C643.35,124.7 649.23,125.23 654.87,125.7 C660.51,126.17 665.78,127.15 670.85,127.3 C675.92,127.45 680.7,125.65 685.31,126.6 C689.92,127.55 694.28,131.58 698.51,133 C702.73,134.42 706.75,134.28 710.65,135.1 C714.55,135.92 718.27,137.12 721.89,137.9 C725.51,138.68 723.34,137.13 732.36,139.8 C741.38,142.47 768.73,151.55 776,153.9" class="fbd"/>
<circle cx="426.7" cy="175.3" r="4.7" class="cm"/>
<circle cx="488.21" cy="151.8" r="4.7" class="cm"/>
<circle cx="531.85" cy="137.1" r="4.7" class="cm"/>
<circle cx="565.7" cy="128.7" r="4.7" class="cm"/>
<circle cx="593.36" cy="125.4" r="4.7" class="cm"/>
<circle cx="616.74" cy="124.5" r="4.7" class="cm"/>
<circle cx="637" cy="124.5" r="4.7" class="cm"/>
<circle cx="654.87" cy="125.7" r="4.7" class="cm"/>
<circle cx="670.85" cy="127.3" r="4.7" class="cm"/>
<circle cx="685.31" cy="126.6" r="4.7" class="cm"/>
<circle cx="698.51" cy="133" r="4.7" class="cm"/>
<circle cx="710.65" cy="135.1" r="4.7" class="cm"/>
<circle cx="721.89" cy="137.9" r="4.7" class="cm"/>
<circle cx="732.36" cy="139.8" r="4.7" class="cm"/>
<circle cx="776" cy="153.9" r="4.7" class="cm"/>
<path d="M426.7,276.8 L431.7,286.4 L421.7,286.4Z" class="tm"/>
<path d="M531.85,189.6 L536.85,199.2 L526.85,199.2Z" class="tm"/>
<path d="M593.36,156.2 L598.36,165.8 L588.36,165.8Z" class="tm"/>
<path d="M637,139.8 L642,149.4 L632,149.4Z" class="tm"/>
<path d="M670.85,127.2 L675.85,136.8 L665.85,136.8Z" class="tm"/>
<path d="M698.51,121.4 L703.51,131 L693.51,131Z" class="tm"/>
<path d="M732.36,114 L737.36,123.6 L727.36,123.6Z" class="tm"/>
<path d="M776,107.2 L781,116.8 L771,116.8Z" class="tm"/>
<rect x="90.2" y="16.8" width="201.2" height="124.8" class="lg"/>
<line x1="95.5" y1="30.9" x2="139.8" y2="30.9" class="fbd"/>
<circle cx="117.2" cy="30.9" r="4.7" class="cm"/>
<line x1="95.5" y1="55.9" x2="139.8" y2="55.9" class="ffd"/>
<path d="M117.2,51.1 L122.2,60.7 L112.2,60.7Z" class="tm"/>
<line x1="96.3" y1="80.6" x2="136.2" y2="80.6" class="ldash"/>
<line x1="95.5" y1="105.8" x2="139.8" y2="105.8" class="ldl"/>
<line x1="96.3" y1="130.6" x2="136.2" y2="130.6" class="ldash"/>
<text x="144.2" y="34.7" class="t lgt">Feedback data</text>
<text x="144.2" y="59.7" class="t lgt">Feedforward data</text>
<text x="144.2" y="84.4" class="t lgt">Feedforward model</text>
<text y="109.6" class="t"><tspan x="144.3">delay</tspan><tspan x="185.6">=</tspan><tspan x="199.6" style="font-size:16.5px">0.004</tspan></text>
<text x="144.2" y="134.4" class="t lgt">Feedback model</text>
<text x="64.2" y="14.23" class="t" text-anchor="end"><tspan class="h">1</tspan>0.00</text>
<path d="M710,0L520,0L520,1040C400,985 270,950 160,925L160,1085C310,1125 440,1200 525,1300C560,1345 580,1400 590,1460L710,1460Z" class="g1" transform="translate(24.16,14.23) scale(0.007812,-0.007812)"/>
<text x="64.2" y="146.5" class="t" text-anchor="end"><tspan class="h">1</tspan>.00</text>
<path d="M710,0L520,0L520,1040C400,985 270,950 160,925L160,1085C310,1125 440,1200 525,1300C560,1345 580,1400 590,1460L710,1460Z" class="g1" transform="translate(33.06,146.5) scale(0.007812,-0.007812)"/>
<text x="64.2" y="278.77" class="t" text-anchor="end">0.<tspan class="h">1</tspan>0</text>
<path d="M710,0L520,0L520,1040C400,985 270,950 160,925L160,1085C310,1125 440,1200 525,1300C560,1345 580,1400 590,1460L710,1460Z" class="g1" transform="translate(46.4,278.77) scale(0.007812,-0.007812)"/>
<text x="64.2" y="411.04" class="t" text-anchor="end">0.0<tspan class="h">1</tspan></text>
<path d="M710,0L520,0L520,1040C400,985 270,950 160,925L160,1085C310,1125 440,1200 525,1300C560,1345 580,1400 590,1460L710,1460Z" class="g1" transform="translate(55.3,411.04) scale(0.007812,-0.007812)"/>
<text x="78.3" y="434.6" class="t xt" text-anchor="middle"><tspan class="h">1</tspan></text>
<path d="M710,0L520,0L520,1040C400,985 270,950 160,925L160,1085C310,1125 440,1200 525,1300C560,1345 580,1400 590,1460L710,1460Z" class="g1" transform="translate(73.57,434.6) scale(0.008301,-0.008301)"/>
<text x="427.6" y="434.6" class="t xt" text-anchor="middle"><tspan class="h">1</tspan>0</text>
<path d="M710,0L520,0L520,1040C400,985 270,950 160,925L160,1085C310,1125 440,1200 525,1300C560,1345 580,1400 590,1460L710,1460Z" class="g1" transform="translate(418.15,434.6) scale(0.008301,-0.008301)"/>
<text x="776.9" y="434.6" class="t xt" text-anchor="middle"><tspan class="h">1</tspan>00</text>
<path d="M710,0L520,0L520,1040C400,985 270,950 160,925L160,1085C310,1125 440,1200 525,1300C560,1345 580,1400 590,1460L710,1460Z" class="g1" transform="translate(762.72,434.6) scale(0.008301,-0.008301)"/>
<text x="427.4" y="461.3" class="t xl" text-anchor="middle">frequency (Hz)</text>
<text transform="translate(18.1,206.2) rotate(-90) scale(1.085,0.92)" class="t" text-anchor="middle">gain</text>
</svg></body></html>
